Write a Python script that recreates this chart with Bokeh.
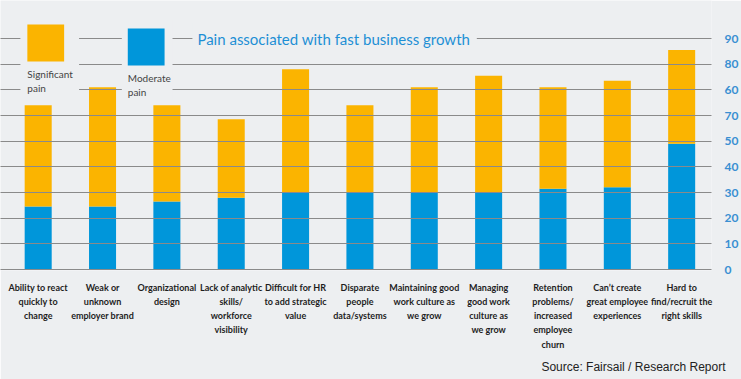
from bokeh.plotting import figure
from bokeh.models import FixedTicker, Range1d, Label, BoxAnnotation, ColumnDataSource, Title
from bokeh.embed import file_html
from bokeh.resources import INLINE

# ---- data ----
categories = [
    "Ability to react\nquickly to\nchange",
    "Weak or\nunknown\nemployer brand",
    "Organizational\ndesign",
    "Lack of analytic\nskills/\nworkforce\nvisibility",
    "Difficult for HR\nto add strategic\nvalue",
    "Disparate\npeople\ndata/systems",
    "Maintaining good\nwork culture as\nwe grow",
    "Managing\ngood work\nculture as\nwe grow",
    "Retention\nproblems/\nincreased\nemployee\nchurn",
    "Can\u2019t create\ngreat employee\nexperiences",
    "Hard to\nfind/recruit the\nright skills",
]
moderate = [24.5, 24.5, 26.5, 28, 30, 30, 30, 30, 31.5, 32, 49]
significant = [39.5, 46.5, 37.5, 30.5, 48, 34, 41, 45.5, 39.5, 41.5, 36.5]
ytick_values = [0, 10, 20, 30, 40, 50, 60, 70, 80, 90]
ytick_labels = ["0", "10", "20", "30", "40", "50", "70", "60", "80", "90"]
title_text = "Pain associated with fast business growth"
legend_labels = ["Significant\npain", "Moderate\npain"]
source_text = "Source: Fairsail / Research Report"

BG = "#edeff1"
ORANGE = "#fbb400"
BLUE = "#0096da"
TITLE_BLUE = "#1e8fd5"

PX_X = 64.71
X0 = -37.9 / PX_X
FRAME_W = 715
X1 = X0 + FRAME_W / PX_X
PX_Y = 231 / 90.0
Y0 = -1 / PX_Y
Y1 = 269 / PX_Y


def dx(px):
    return X0 + px / PX_X


def dy(py):
    return (269 - py) / PX_Y


idx = list(range(len(categories)))
src = ColumnDataSource(dict(x=idx, moderate=moderate, significant=significant))

p = figure(width=741, height=379, x_range=Range1d(X0, X1), y_range=Range1d(Y0, Y1),
           output_backend="svg", toolbar_location=None, y_axis_location="right",
           title=None, min_border_left=0, min_border_top=0, min_border_right=26,
           min_border_bottom=109)
p.background_fill_color = BG
p.border_fill_color = BG
p.outline_line_color = None

p.vbar_stack(["moderate", "significant"], x="x", width=0.42, source=src,
             color=[BLUE, ORANGE], line_color=None)

p.xgrid.visible = False
p.ygrid.ticker = FixedTicker(ticks=ytick_values)
p.ygrid.grid_line_color = "#8a8a8a"
p.ygrid.grid_line_width = 1
p.ygrid.level = "guide"

ya = p.yaxis[0]
ya.ticker = FixedTicker(ticks=ytick_values)
ya.major_label_overrides = {v: l for v, l in zip(ytick_values, ytick_labels)}
ya.axis_line_color = None
ya.major_tick_line_color = None
ya.minor_tick_line_color = None
ya.major_label_standoff = 7
ya.major_label_text_color = "#3a8fd2"
ya.major_label_text_font = "Lato"
ya.major_label_text_font_style = "bold"
ya.major_label_text_font_size = "12px"

xa = p.xaxis[0]
xa.ticker = FixedTicker(ticks=idx)
xa.major_label_overrides = {i: c for i, c in zip(idx, categories)}
xa.axis_line_color = None
xa.major_tick_line_color = None
xa.minor_tick_line_color = None
xa.major_label_standoff = 5
xa.major_label_text_color = "#1e1e1e"
xa.major_label_text_font = "Lato"
xa.major_label_text_font_style = "bold"
xa.major_label_text_font_size = "9px"
xa.major_label_text_line_height = 1.3

for l, r, t, b in [(20, 79, 20, 99), (122, 173, 20, 99), (193, 479, 22, 50)]:
    p.add_layout(BoxAnnotation(left=dx(l), right=dx(r), top=dy(t), bottom=dy(b),
                               fill_color=BG, fill_alpha=1, line_color=None))

p.add_layout(BoxAnnotation(left=dx(27), right=dx(64), top=dy(24), bottom=dy(61),
                           fill_color=ORANGE, fill_alpha=1, line_color=None))
p.add_layout(BoxAnnotation(left=dx(128), right=dx(165), top=dy(28), bottom=dy(65),
                           fill_color=BLUE, fill_alpha=1, line_color=None))
p.add_layout(Label(x=dx(27), y=dy(67), text=legend_labels[0], text_baseline="top",
                   text_font="Lato", text_font_size="10px", text_color="#444444",
                   text_line_height=1.2))
p.add_layout(Label(x=dx(128), y=dy(71), text=legend_labels[1], text_baseline="top",
                   text_font="Lato", text_font_size="10px", text_color="#444444",
                   text_line_height=1.2))

p.add_layout(Label(x=dx(198), y=dy(38.5), text=title_text, text_baseline="alphabetic",
                   text_font="Lato", text_font_size="15px", text_color=TITLE_BLUE))

p.add_layout(Title(text=source_text, align="right", offset=-14, text_font="Liberation Sans",
                   text_font_size="12px", text_font_style="normal", text_color="#222222"),
             "below")

open("out.html", "w").write(file_html(p, INLINE))
